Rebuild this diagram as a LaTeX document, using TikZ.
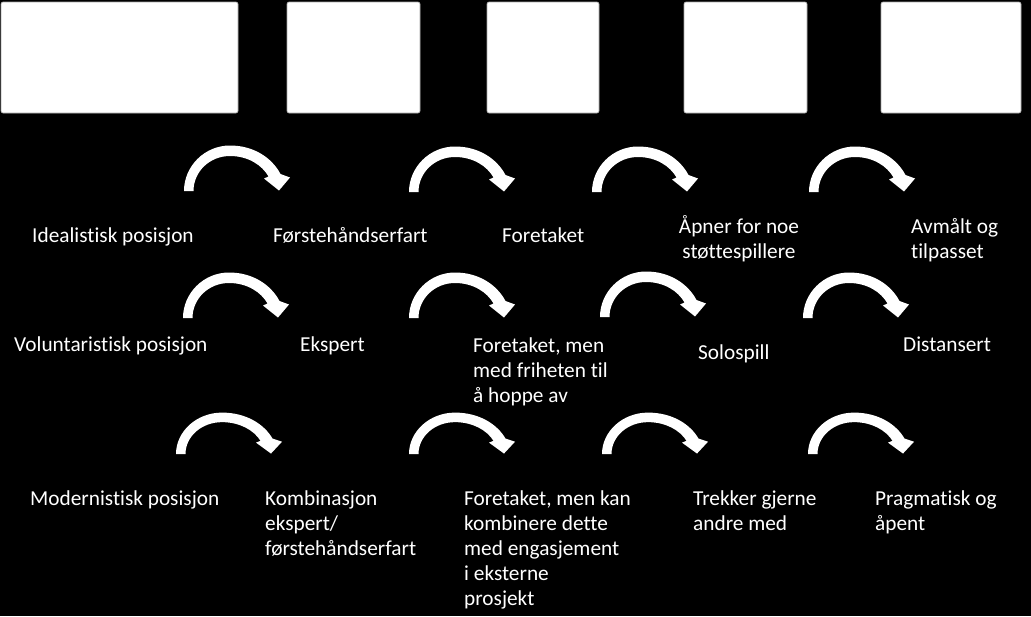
\documentclass[tikz,border=0pt]{standalone}
\usepackage{fontspec}
\setmainfont{Carlito}[Ligatures={NoCommon,NoContextual}]
\tikzset{
  blankbox/.style={draw=gray!70, line width=0.6pt, fill=white, rounded corners=2pt},
  lbl/.style={text=white, inner sep=0pt, font=\fontsize{21.3}{25}\selectfont},
  curvarrow/.pic={
    \fill[white] (0,0) -- (9.5,0) .. controls (9.5,-19.3) and (25.6,-35) .. (46,-35)
      .. controls (64,-35) and (78,-26) .. (84.5,-14.5) -- (80,-12.5) -- (95,-0.5)
      -- (106,-13.5) -- (96.5,-17) .. controls (88,-33) and (70,-45.5) .. (46,-45.5)
      .. controls (20.6,-45.5) and (0,-24.8) .. (0,0) -- cycle;
  }
}
\newcommand{\lines}[2][l]{\begin{tabular}[t]{@{}#1@{}}#2\end{tabular}}
\begin{document}
\begin{tikzpicture}[x=1pt,y=-1pt]
\useasboundingbox (0,0) rectangle (1031,616);
\fill[black] (0,0) rectangle (1031,616);
% boxes
\draw[blankbox] (1,2) rectangle (238,113);
\draw[blankbox] (287,2) rectangle (420,113);
\draw[blankbox] (487,2) rectangle (599,113);
\draw[blankbox] (684,2) rectangle (807,113);
\draw[blankbox] (881,2) rectangle (1021,113);
% arrows row 1
\pic at (184,191) {curvarrow};
\pic at (409,192) {curvarrow};
\pic at (592,192) {curvarrow};
\pic at (809,192) {curvarrow};
% arrows row 2
\pic at (183,318) {curvarrow};
\pic at (409,318) {curvarrow};
\pic at (600,317) {curvarrow};
\pic at (803,318) {curvarrow};
% arrows row 3
\pic[yscale=0.91] at (176,454) {curvarrow};
\pic[yscale=0.91] at (409,454) {curvarrow};
\pic[yscale=0.91] at (602,454) {curvarrow};
\pic[yscale=0.91] at (808,454) {curvarrow};
% row 1 labels
\node[lbl, anchor=base west] (t11) at (32,242) {\lines{Idealistisk posisjon}};
\node[lbl, anchor=base west] (t12) at (273,242) {\lines{Førstehåndserfart}};
\node[lbl, anchor=base west] (t13) at (502,242) {\lines{Foretaket}};
\node[lbl, anchor=base] (t14) at (739,233) {\lines[c]{Åpner for noe\\støttespillere}};
\node[lbl, anchor=base west] (t15) at (911,233) {\lines{Avmålt og\\tilpasset}};
% row 2 labels
\node[lbl, anchor=base west] (t21) at (14,351) {\lines{Voluntaristisk posisjon}};
\node[lbl, anchor=base west] (t22) at (300,351) {\lines{Ekspert}};
\node[lbl, anchor=base west] (t23) at (473,352) {\lines{Foretaket, men\\med friheten til\\å hoppe av}};
\node[lbl, anchor=base west] (t24) at (698,359) {\lines{Solospill}};
\node[lbl, anchor=base west] (t25) at (903,351) {\lines{Distansert}};
% row 3 labels
\node[lbl, anchor=base west] (t31) at (30,505) {\lines{Modernistisk posisjon}};
\node[lbl, anchor=base west] (t32) at (265,505) {\lines{Kombinasjon\\ekspert/\\førstehåndserfart}};
\node[lbl, anchor=base west] (t33) at (464,505) {\lines{Foretaket, men kan\\kombinere dette\\med engasjement\\i eksterne\\prosjekt}};
\node[lbl, anchor=base west] (t34) at (693,505) {\lines{Trekker gjerne\\andre med}};
\node[lbl, anchor=base west] (t35) at (875,505) {\lines{Pragmatisk og\\åpent}};
\end{tikzpicture}
\end{document}
